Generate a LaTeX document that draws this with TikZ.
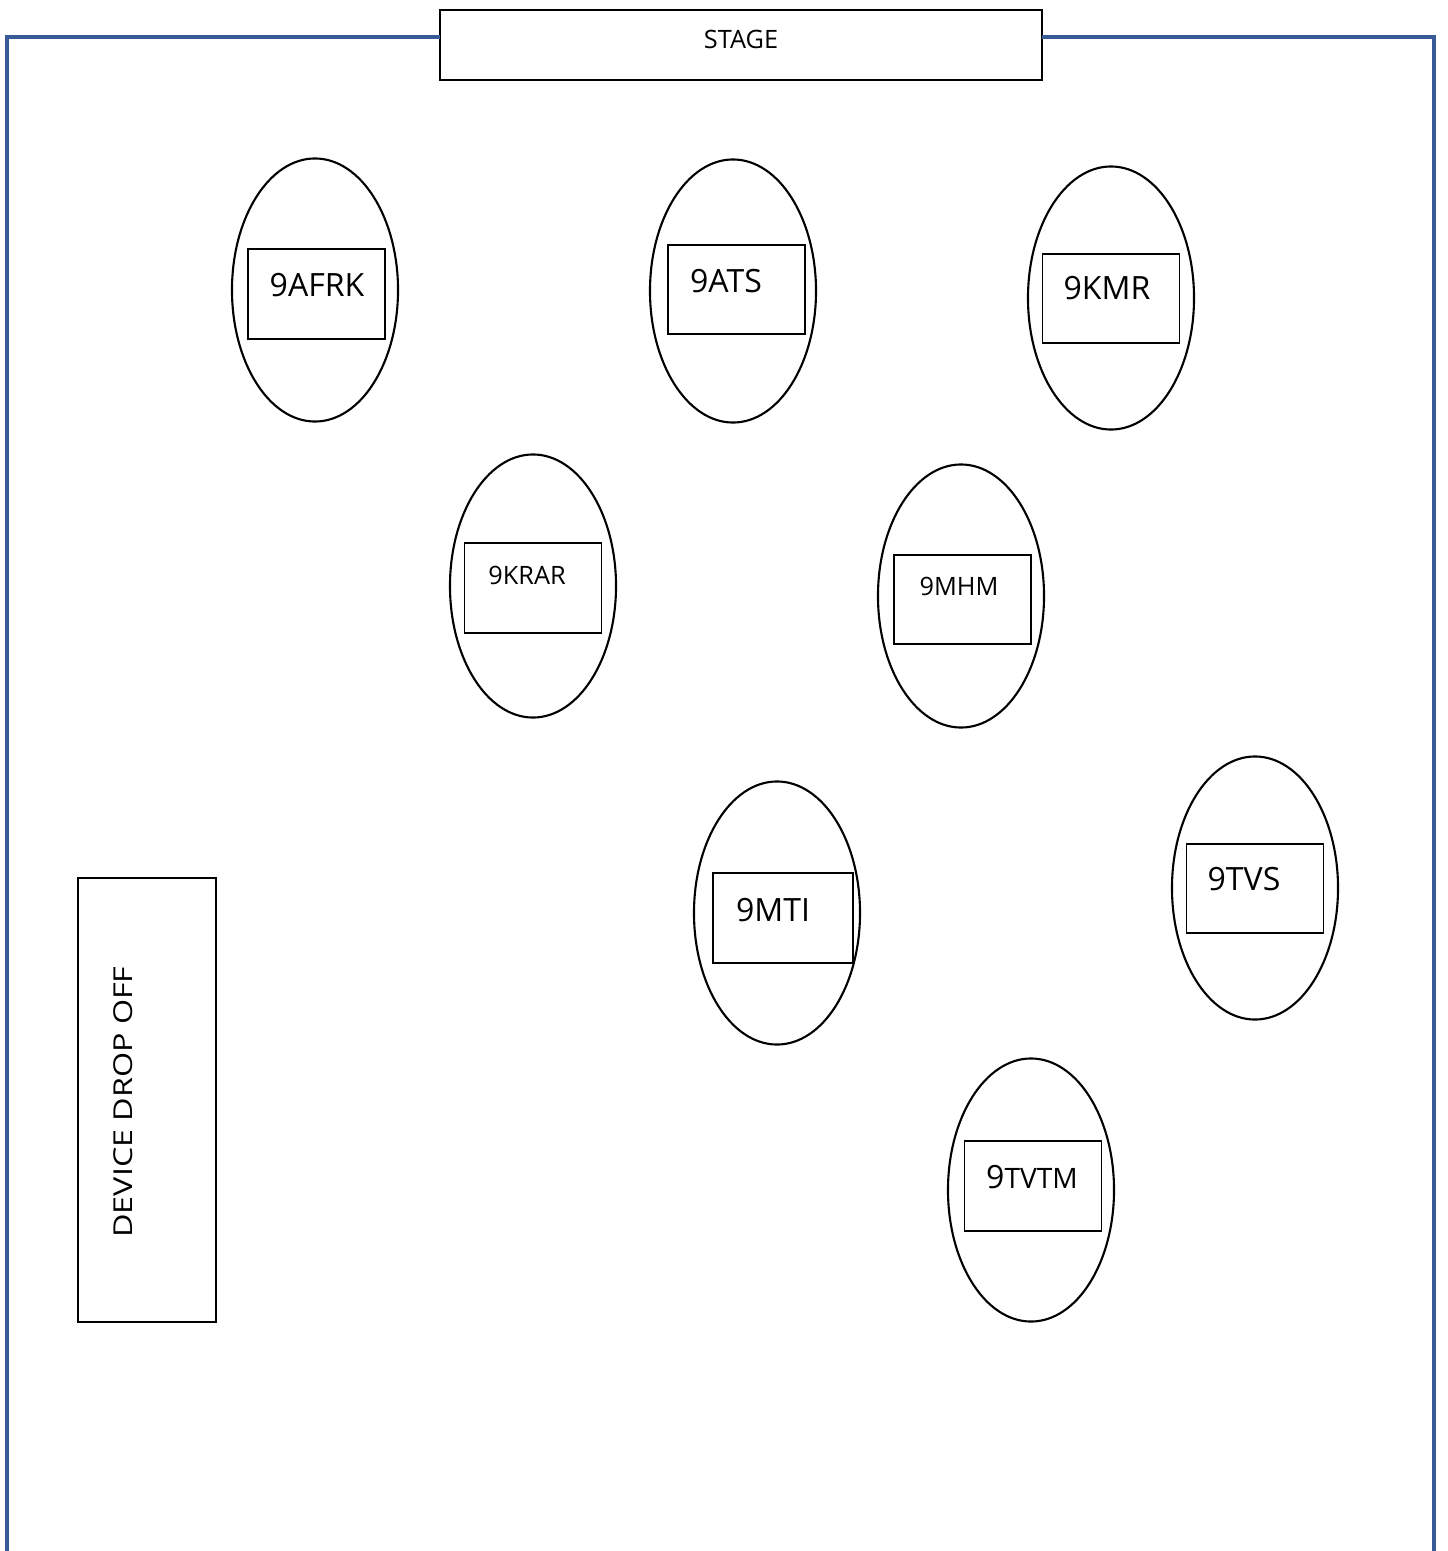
\documentclass[tikz,border=0pt]{standalone}
\usepackage{fontspec}
\setmainfont{Open Sans}
\usepackage{tikz}
\usetikzlibrary{shapes.geometric}

\definecolor{wallblue}{RGB}{56,90,150}

\begin{document}
\begin{tikzpicture}[
  x=0.025cm, y=-0.025cm,
  wall/.style={draw=wallblue, line width=2.3pt},
  table/.style={ellipse, draw, line width=1.5pt, inner sep=0pt,
    minimum width=4.15cm, minimum height=6.575cm},
  tag/.style={draw, line width=1.2pt, inner sep=0pt,
    minimum width=3.43cm, minimum height=2.24cm},
  big/.style={font=\fontsize{22.8}{27}\selectfont, inner sep=0pt},
  small/.style={font=\fontsize{18}{22}\selectfont, inner sep=0pt}
]
  \useasboundingbox (0,0) rectangle (1447,1551);

  % stage and room walls
  \node[draw, line width=1.5pt, minimum width=15.05cm, minimum height=1.75cm] (stage) at (741,45) {};
  \node[small] (stage-lbl) at (741,39) {STAGE};
  \draw[wall] (7,1551) |- (440,37);
  \draw[wall] (1042,37) -| (1434,1551);

  % tables, first row
  \node[table] (afrk) at (315,290) {};
  \node[tag] (afrk-tag) at (316.5,294) {};
  \node[big] (afrk-lbl) at (317,285) {9AFRK};

  \node[table] (ats) at (733,291) {};
  \node[tag] (ats-tag) at (736.5,289.5) {};
  \node[big] (ats-lbl) at (726,281) {9ATS};

  \node[table] (kmr) at (1111,298) {};
  \node[tag] (kmr-tag) at (1111,298.5) {};
  \node[big] (kmr-lbl) at (1107,288) {9KMR};

  % second row
  \node[table] (krar) at (533,586) {};
  \node[tag] (krar-tag) at (533,588) {};
  \node[small] (krar-lbl) at (527,575) {9KRAR};

  \node[table] (mhm) at (961,596) {};
  \node[tag] (mhm-tag) at (962.5,599.5) {};
  \node[small] (mhm-lbl) at (959,586) {9MHM};

  % third row
  \node[table] (mti) at (777,913) {};
  \node[tag, minimum width=3.5cm] (mti-tag) at (783,918) {};
  \node[big] (mti-lbl) at (773,910) {9MTI};

  \node[table] (tvs) at (1255,888) {};
  \node[tag] (tvs-tag) at (1255,888.5) {};
  \node[big] (tvs-lbl) at (1244,879) {9TVS};

  \node[table] (tvtm) at (1031,1190) {};
  \node[tag] (tvtm-tag) at (1033,1186) {};
  \node[big] (tvtm-lbl) at (1032,1177) {9{\fontsize{20}{24}\selectfont TVTM}};

  % drop off point
  \node[draw, line width=1.5pt, minimum width=3.45cm, minimum height=11.1cm] (drop) at (147,1100) {};
  \node[font=\fontsize{18.5}{22}\selectfont, inner sep=0pt, rotate=90] (drop-lbl) at (123,1102) {\scalebox{1.24}[1]{DEVICE DROP OFF}};
\end{tikzpicture}
\end{document}
